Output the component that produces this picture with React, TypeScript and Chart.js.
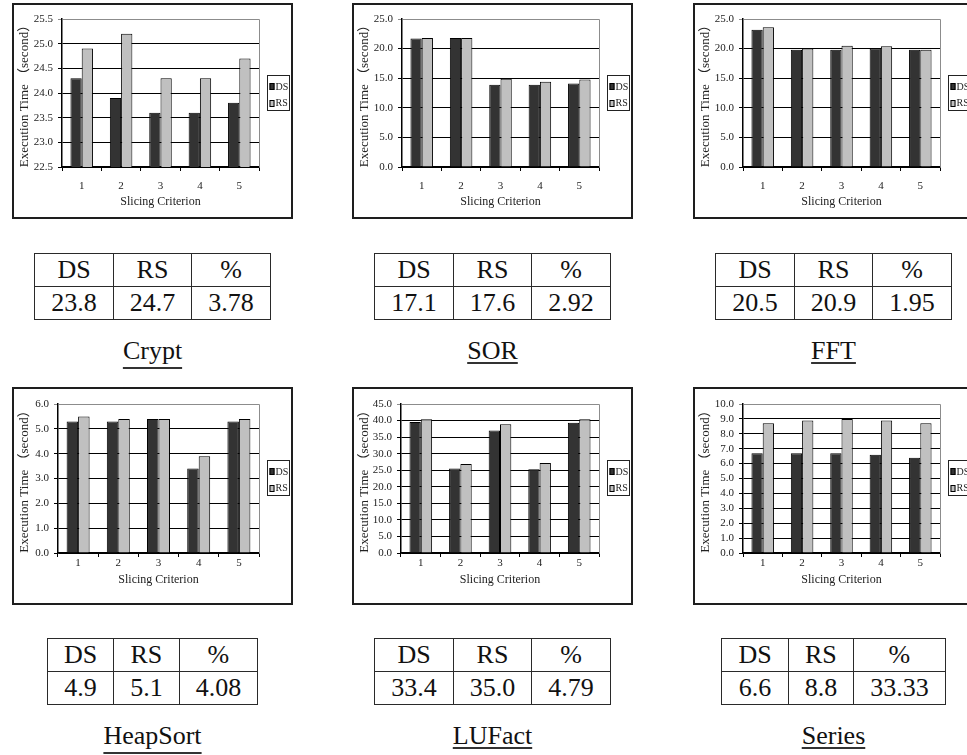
import React, { useEffect, useRef } from 'react';
import { Chart, registerables } from 'chart.js';

Chart.register(...registerables);

// ---------- data ----------
const categories = ['1', '2', '3', '4', '5'];
const seriesNames = ['DS', 'RS'];
const tableHeader = ['DS', 'RS', '%'];
const xTitle = 'Slicing Criterion';
const yTitle = 'Execution Time （second）';

const cryptDS = [24.3, 23.9, 23.6, 23.6, 23.8];
const cryptRS = [24.9, 25.2, 24.3, 24.3, 24.7];
const cryptAxis = [22.5, 25.5, 0.5];
const cryptTable = ['23.8', '24.7', '3.78'];

const sorDS = [21.7, 21.8, 13.9, 13.9, 14.1];
const sorRS = [21.8, 21.8, 14.9, 14.4, 14.8];
const sorAxis = [0, 25, 5];
const sorTable = ['17.1', '17.6', '2.92'];

const fftDS = [23.2, 19.8, 19.8, 20.0, 19.8];
const fftRS = [23.6, 20.0, 20.5, 20.4, 19.8];
const fftAxis = [0, 25, 5];
const fftTable = ['20.5', '20.9', '1.95'];

const heapDS = [5.3, 5.3, 5.4, 3.4, 5.3];
const heapRS = [5.5, 5.4, 5.4, 3.9, 5.4];
const heapAxis = [0, 6, 1];
const heapTable = ['4.9', '5.1', '4.08'];

const luDS = [39.6, 25.5, 37.0, 25.3, 39.3];
const luRS = [40.4, 26.9, 38.9, 27.2, 40.4];
const luAxis = [0, 45, 5];
const luTable = ['33.4', '35.0', '4.79'];

const seriesDS = [6.7, 6.7, 6.7, 6.6, 6.4];
const seriesRS = [8.7, 8.9, 9.0, 8.9, 8.7];
const seriesAxis = [0, 10, 1];
const seriesTable = ['6.6', '8.8', '33.33'];

// ---------- styles / layout ----------
const seriesColors = ['#333333', '#c0c0c0'];
const SERIF = "'Liberation Serif', 'Times New Roman', Tinos, 'DejaVu Serif'";
const CHART_FONT = `${SERIF}, 'Noto Sans CJK SC', serif`;
const DOC_FONT = `${SERIF}, serif`;
const FRAME_W = 281;
const BORDER = 2;
const PLOT_RIGHT = 247;
const COL_LEFT = [12, 352, 693];
const ROWS = [
  { frameTop: 3, frameH: 216, plotTop: 16, plotBottom: 164, xTickPad: 9, xTitlePad: 8, tableTop: 253, captionTop: 338 },
  { frameTop: 387, frameH: 218, plotTop: 17, plotBottom: 166, xTickPad: 0, xTitlePad: 16, tableTop: 638, captionTop: 723 },
];

const panels = [
  { name: 'Crypt', ds: cryptDS, rs: cryptRS, axis: cryptAxis, table: cryptTable, row: 0, col: 0, plotLeft: 50 },
  { name: 'SOR', ds: sorDS, rs: sorRS, axis: sorAxis, table: sorTable, row: 0, col: 1, plotLeft: 50 },
  { name: 'FFT', ds: fftDS, rs: fftRS, axis: fftAxis, table: fftTable, row: 0, col: 2, plotLeft: 50 },
  { name: 'HeapSort', ds: heapDS, rs: heapRS, axis: heapAxis, table: heapTable, row: 1, col: 0, plotLeft: 46 },
  { name: 'LUFact', ds: luDS, rs: luRS, axis: luAxis, table: luTable, row: 1, col: 1, plotLeft: 49 },
  { name: 'Series', ds: seriesDS, rs: seriesRS, axis: seriesAxis, table: seriesTable, row: 1, col: 2, plotLeft: 50 },
];

const excelPlugin = {
  id: 'excelFrame',
  afterDraw(chart: any) {
    const { ctx, chartArea: a } = chart;
    ctx.save();
    ctx.strokeStyle = '#8c8c8c';
    ctx.lineWidth = 1;
    const T = Math.round(a.top) + 0.5;
    const L = Math.round(a.left) + 0.5;
    const R = Math.round(a.right) + 0.5;
    const B = Math.round(a.bottom) + 0.5;
    ctx.beginPath();
    ctx.moveTo(L, T);
    ctx.lineTo(R, T);
    ctx.lineTo(R, B);
    ctx.stroke();

    // legend box
    const bw = 22;
    const bh = 35;
    const x0 = Math.round(a.right + 8) + 0.5;
    const yc = (a.top + a.bottom) / 2 - 1;
    const y0 = Math.round(yc - bh / 2) + 0.5;
    ctx.fillStyle = '#ffffff';
    ctx.fillRect(x0, y0, bw, bh);
    ctx.strokeStyle = '#222';
    ctx.lineWidth = 1;
    ctx.strokeRect(x0, y0, bw, bh);
    ctx.font = `10px ${CHART_FONT}`;
    ctx.textBaseline = 'middle';
    ctx.textAlign = 'left';
    chart.data.datasets.forEach((d: any, i: number) => {
      const cy = y0 + 11 + i * 16.5;
      ctx.fillStyle = d.backgroundColor;
      ctx.fillRect(x0 + 2, Math.round(cy - 3.5), 5, 7);
      ctx.strokeStyle = '#000';
      ctx.strokeRect(x0 + 2.5, Math.round(cy - 3.5) + 0.5, 4, 6);
      ctx.fillStyle = '#222';
      ctx.fillText(d.label, x0 + 8, cy + 0.5);
    });
    ctx.restore();
  },
};

function BarPanel({ p }: { p: any }) {
  const ref = useRef<HTMLCanvasElement>(null);
  const R = ROWS[p.row];
  const W = FRAME_W - 2 * BORDER;
  const H = R.frameH - 2 * BORDER;
  useEffect(() => {
    if (!ref.current) return;
    const tickFont = { family: CHART_FONT, size: 11 };
    const xTitleFont = { family: CHART_FONT, size: 12 };
    const yTitleFont = { family: CHART_FONT, size: 13 };
    const chart = new Chart(ref.current, {
      type: 'bar',
      data: {
        labels: categories,
        datasets: [
          {
            label: seriesNames[0],
            data: p.ds,
            backgroundColor: seriesColors[0],
            borderColor: '#000',
            borderWidth: 1,
            categoryPercentage: 2 / 3.5,
            barPercentage: 1,
          },
          {
            label: seriesNames[1],
            data: p.rs,
            backgroundColor: seriesColors[1],
            borderColor: '#000',
            borderWidth: 1,
            categoryPercentage: 2 / 3.5,
            barPercentage: 1,
          },
        ],
      },
      options: {
        responsive: false,
        animation: false,
        devicePixelRatio: 1,
        events: [],
        layout: {
          padding: { left: 4, top: R.plotTop - BORDER, right: W - (PLOT_RIGHT - BORDER), bottom: 0 },
        },
        plugins: { legend: { display: false }, tooltip: { enabled: false } },
        scales: {
          x: {
            offset: true,
            grid: { drawOnChartArea: false, offset: true, tickLength: 4, color: '#000', lineWidth: 1 },
            border: { color: '#000', width: 1.5 },
            ticks: { font: tickFont, color: '#222', padding: R.xTickPad, maxRotation: 0, autoSkip: false },
            title: { display: true, text: xTitle, font: xTitleFont, color: '#222', padding: { top: 0, bottom: R.xTitlePad } },
            afterFit: (s: any) => {
              s.height = H - (R.plotBottom - BORDER);
            },
          },
          y: {
            min: p.axis[0],
            max: p.axis[1],
            ticks: {
              stepSize: p.axis[2],
              autoSkip: false,
              maxTicksLimit: 20,
              font: tickFont,
              color: '#222',
              padding: 5,
              callback: (v: any) => Number(v).toFixed(1),
            },
            grid: {
              color: (c: any) => (c.index === c.scale.ticks.length - 1 ? '#8c8c8c' : '#000'),
              lineWidth: 1,
              tickLength: 4,
            },
            border: { color: '#000', width: 1.5 },
            title: { display: true, text: yTitle, font: yTitleFont, color: '#222', padding: { top: -1, bottom: 0 } },
            afterFit: (s: any) => {
              s.width = p.plotLeft - BORDER - 4;
            },
          },
        },
      },
      plugins: [excelPlugin],
    } as any);
    return () => chart.destroy();
  }, []);
  return (
    <div
      style={{
        position: 'absolute',
        left: COL_LEFT[p.col],
        top: R.frameTop,
        width: FRAME_W,
        height: R.frameH,
        border: `${BORDER}px solid #1e1e1e`,
        boxSizing: 'border-box',
        background: '#fff',
      }}
    >
      <canvas ref={ref} width={W} height={H} style={{ display: 'block', width: W, height: H }} />
    </div>
  );
}

function SummaryTable({ p }: { p: any }) {
  const R = ROWS[p.row];
  const cell: React.CSSProperties = {
    border: '1px solid #2a2a2a',
    padding: '0 16px',
    height: 32,
    lineHeight: '32px',
    textAlign: 'center',
    whiteSpace: 'nowrap',
  };
  return (
    <div
      style={{
        position: 'absolute',
        left: COL_LEFT[p.col],
        top: R.tableTop,
        width: FRAME_W,
        display: 'flex',
        justifyContent: 'center',
      }}
    >
      <table style={{ borderCollapse: 'collapse', fontFamily: DOC_FONT, fontSize: 26, color: '#111' }}>
        <tbody>
          <tr>
            {tableHeader.map((h) => (
              <td key={h} style={cell}>{h}</td>
            ))}
          </tr>
          <tr>
            {p.table.map((v: string, i: number) => (
              <td key={i} style={cell}>{v}</td>
            ))}
          </tr>
        </tbody>
      </table>
    </div>
  );
}

function Caption({ p }: { p: any }) {
  const R = ROWS[p.row];
  const desc = /[gjpqy]/.test(p.name);
  return (
    <div
      style={{
        position: 'absolute',
        left: COL_LEFT[p.col],
        top: R.captionTop,
        width: FRAME_W,
        textAlign: 'center',
        fontFamily: DOC_FONT,
        fontSize: 26,
        lineHeight: '26px',
        color: '#111',
      }}
    >
      <span
        style={{
          textDecorationLine: 'underline',
          textDecorationThickness: '1.5px',
          textDecorationColor: '#333',
          textUnderlineOffset: desc ? '8px' : '3px',
          textDecorationSkipInk: 'none',
        } as any}
      >
        {p.name}
      </span>
    </div>
  );
}

export default function App() {
  return (
    <div
      style={{
        position: 'absolute',
        left: 0,
        top: 0,
        width: 967,
        height: 755,
        overflow: 'hidden',
        background: '#fff',
      }}
    >
      {panels.map((p) => (
        <React.Fragment key={p.name}>
          <BarPanel p={p} />
          <SummaryTable p={p} />
          <Caption p={p} />
        </React.Fragment>
      ))}
    </div>
  );
}
